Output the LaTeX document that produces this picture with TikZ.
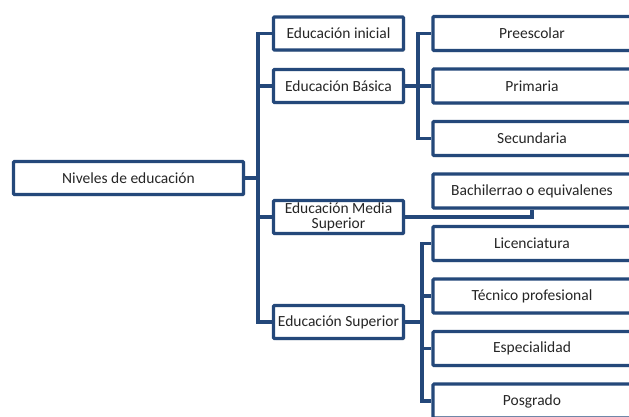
\documentclass[tikz,border=0pt]{standalone}
\usepackage{fontspec}
\setmainfont{Carlito}
\usepackage{tikz}
\usetikzlibrary{positioning, shadows}
\definecolor{levelblue}{RGB}{36,72,122}
\tikzset{
    x=1pt, y=-1pt, % pixel-like units, y grows downwards
    level/.style={draw=levelblue, line width=3.2pt, fill=white, rounded corners=1pt,
        drop shadow={shadow xshift=1.5pt, shadow yshift=-1.5pt, fill=gray, opacity=.35},
        text=black!85, font=\fontsize{15.5}{15}\selectfont, align=center, inner sep=1pt}, % every box
    link/.style={draw=levelblue, line width=3.2pt}, % the branches
}

\begin{document}
\begin{tikzpicture}[
                                styleLeft/.style={level, minimum width=130pt, minimum height=33pt},
                                styleRight/.style={level, minimum width=198pt, minimum height=34pt},
                                node distance=52.5pt,
                            ]
                            \useasboundingbox (0,0) rectangle (629,416);
                            \node[level, minimum width=230pt, minimum height=33pt] (niveles) at (128.5,178) {Niveles de educación};
                            \node[styleLeft] (inicial) at (338.5,33.5) {Educación inicial};
                            \node[styleLeft, below of=inicial] (basica) {Educación Básica};
                            \node[styleLeft] (media) at (338.5,217) {Educación Media\\Superior};
                            \node[styleLeft] (superior) at (338.5,322) {Educación Superior};
                            \node[styleRight] (preescolar) at (532,33.5) {Preescolar};
                            \node[styleRight, below of=preescolar] (primaria) {Primaria};
                            \node[styleRight, below of=primaria] (secundaria) {Secundaria};
                            \node[styleRight] (bachillerato) at (532,191) {Bachilerrao o equivalenes};
                            \node[styleRight] (licenciatura) at (532,243.5) {Licenciatura};
                            \node[styleRight, below of=licenciatura] (tecnico) {Técnico profesional};
                            \node[styleRight, below of=tecnico] (especialidad) {Especialidad};
                            \node[styleRight, below of=especialidad] (posgrado) {Posgrado};

                            \coordinate (t1) at (258,178);
                            \coordinate (t2) at (418,86);
                            \coordinate (t3) at (422,322);
                            \draw[link]
                            (niveles.east) -- (t1)
                            (t1) |- (inicial.west)
                            (t1) |- (basica.west)
                            (t1) |- (media.west)
                            (t1) |- (superior.west)

                            (basica.east) -- (t2)
                            (t2) |- (preescolar.west)
                            (t2) |- (primaria.west)
                            (t2) |- (secundaria.west)

                            (media.east) -| (bachillerato.south)

                            (superior.east) -- (t3)
                            (t3) |- (licenciatura.west)
                            (t3) |- (tecnico.west)
                            (t3) |- (especialidad.west)
                            (t3) |- (posgrado.west);
                        \end{tikzpicture}
\end{document}
